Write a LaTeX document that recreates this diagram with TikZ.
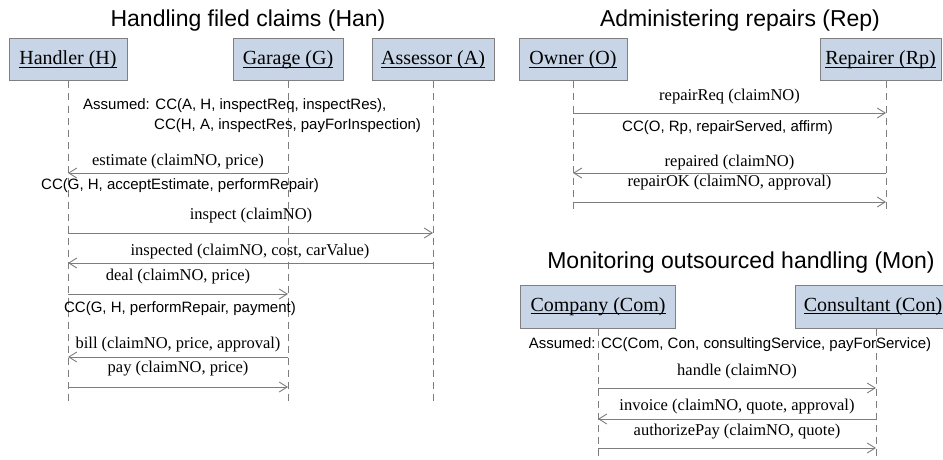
\documentclass[tikz,border=0pt]{standalone}
\usepackage{fontspec}
\setmainfont{Liberation Serif}
\setsansfont{Liberation Sans}
\usetikzlibrary{arrows.meta}
\definecolor{boxfill}{RGB}{200,213,230}
\definecolor{boxline}{RGB}{128,128,128}
\definecolor{wire}{RGB}{125,125,125}
% underlined role name, rule at a fixed depth below the baseline
\newcommand\ulabel[1]{\setbox0=\hbox{#1}\rlap{\rule[-3pt]{\wd0}{0.9pt}}\box0}
\begin{document}
\begin{tikzpicture}[x=1pt,y=-1pt,
  actor/.style={draw=boxline, fill=boxfill, line width=1pt, minimum height=42pt,
    inner sep=0pt, font=\fontsize{20}{24}\selectfont},
  title/.style={inner sep=0pt, font=\sffamily\fontsize{23}{27}\selectfont},
  msglabel/.style={inner sep=0pt, font=\fontsize{16.5}{19}\selectfont},
  cclabel/.style={inner sep=0pt, font=\sffamily\fontsize{15}{19}\selectfont},
  lifeline/.style={draw=wire, line width=0.9pt, dash pattern=on 7pt off 5pt},
  msg/.style={draw=wire, line width=0.9pt, -{Straight Barb[length=8pt,width=10pt]}},
]
\useasboundingbox (0,0) rectangle (943,460);

% ---------------- titles
\node[title, anchor=base] (tHan) at (248,27) {Handling filed claims (Han)};
\node[title, anchor=base] (tRep) at (740,27) {Administering repairs (Rep)};
\node[title, anchor=base] (tMon) at (741,268) {Monitoring outsourced handling (Mon)};

% ---------------- Han: roles
\node[actor, minimum width=118pt] (H) at (68,60) {\ulabel{Handler (H)}};
\node[actor, minimum width=110pt] (G) at (288,60) {\ulabel{Garage (G)}};
\node[actor, minimum width=122pt] (A) at (433,60) {\ulabel{Assessor (A)}};
\draw[lifeline] (H.south) -- ++(0,319);
\draw[lifeline] (G.south) -- ++(0,319);
\draw[lifeline] (A.south) -- ++(0,319);

\node[cclabel, anchor=base west] (asmH1) at (83,110) {Assumed: CC(A, H, inspectReq, inspectRes),};
\node[cclabel, anchor=base west] (asmH2) at (154,129) {CC(H, A, inspectRes, payForInspection)};

\node[msglabel] (mEst) at (178,162) {estimate (claimNO, price)};
\draw[msg] (G.south |- 0,173) -- (H.south |- 0,173);
\node[cclabel] (ccEst) at (180,186) {CC(G, H, acceptEstimate, performRepair)};
\node[msglabel] (mIns) at (251,216) {inspect (claimNO)};
\draw[msg] (H.south |- 0,233) -- (A.south |- 0,233);
\node[msglabel] (mInsd) at (250,252) {inspected (claimNO, cost, carValue)};
\draw[msg] (A.south |- 0,263) -- (H.south |- 0,263);
\node[msglabel] (mDeal) at (178,277) {deal (claimNO, price)};
\draw[msg] (H.south |- 0,294) -- (G.south |- 0,294);
\node[cclabel] (ccDeal) at (180,309) {CC(G, H, performRepair, payment)};
\node[msglabel] (mBill) at (178,345) {bill (claimNO, price, approval)};
\draw[msg] (G.south |- 0,357) -- (H.south |- 0,357);
\node[msglabel] (mPay) at (178,369) {pay (claimNO, price)};
\draw[msg] (H.south |- 0,387) -- (G.south |- 0,387);

% ---------------- Rep: roles
\node[actor, minimum width=108pt] (O) at (573,60) {\ulabel{Owner (O)}};
\node[actor, minimum width=121pt] (Rp) at (880.5,60) {\ulabel{Repairer (Rp)}};
\coordinate (RpL) at ([xshift=5.5pt]Rp.south);
\draw[lifeline] (O.south) -- ++(0,132);
\draw[lifeline] (RpL) -- ++(0,132);

\node[msglabel] (mReq) at (729.5,97) {repairReq (claimNO)};
\draw[msg] (O.south |- 0,113) -- (RpL |- 0,113);
\node[cclabel] (ccRep) at (727.5,128) {CC(O, Rp, repairServed, affirm)};
\node[msglabel] (mRepd) at (729.5,163) {repaired (claimNO)};
\draw[msg] (RpL |- 0,173) -- (O.south |- 0,173);
\node[msglabel] (mOK) at (729.5,183) {repairOK (claimNO, approval)};
\draw[msg] (O.south |- 0,202) -- (RpL |- 0,202);

% ---------------- Mon: roles
\node[actor, minimum width=155pt, minimum height=43pt] (Com) at (598,306.5) {\ulabel{Company (Com)}};
\node[actor, minimum width=156pt, minimum height=43pt] (Con) at (873,306.5) {\ulabel{Consultant (Con)}};
\coordinate (ConL) at ([xshift=3pt]Con.south);
\draw[lifeline] (Com.south) -- ++(0,135);
\draw[lifeline] (ConL) -- ++(0,135);

\node[cclabel] (asmM) at (730,345) {Assumed: CC(Com, Con, consultingService, payForService)};
\node[msglabel] (mHdl) at (737,372) {handle (claimNO)};
\draw[msg] (Com.south |- 0,388) -- (ConL |- 0,388);
\node[msglabel] (mInv) at (737,407) {invoice (claimNO, quote, approval)};
\draw[msg] (ConL |- 0,419) -- (Com.south |- 0,419);
\node[msglabel] (mAut) at (737,432) {authorizePay (claimNO, quote)};
\draw[msg] (Com.south |- 0,448) -- (ConL |- 0,448);
\end{tikzpicture}
\end{document}
